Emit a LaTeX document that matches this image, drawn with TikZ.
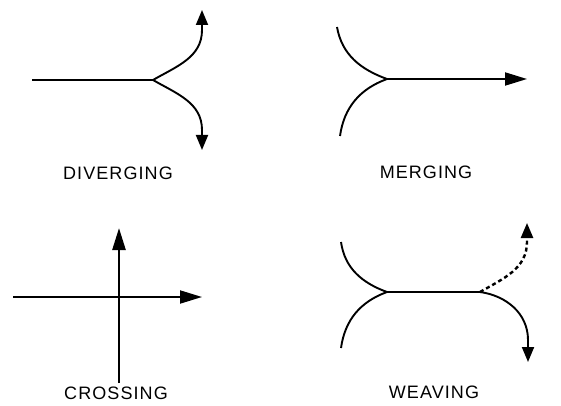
\documentclass[tikz,border=0pt]{standalone}
\usepackage{fontspec}
\setsansfont{Liberation Sans}[LetterSpace=6]
\usetikzlibrary{arrows.meta}
\tikzset{every node/.style={font=\sffamily}}

\begin{document}
\begin{tikzpicture}[x=1pt, y=-1pt,
    lane/.style={line width=1.9pt},
    thicklane/.style={line width=2.5pt},
    weavedash/.style={line width=2.4pt, dash pattern=on 4pt off 3pt},
    shortarr/.style={-{Triangle[length=15pt,width=12pt]}},
    longarr/.style={-{Triangle[length=22pt,width=13pt]}},
    caption/.style={font=\sffamily\fontsize{18}{18}\selectfont, inner sep=0pt}]
  \useasboundingbox (0,0) rectangle (561,406);

  % diverging
  \coordinate (dstart) at (32,80);
  \coordinate (djoin) at (153,80);
  \coordinate (dupbend) at (202,30);
  \coordinate (duptip) at (202,10);
  \coordinate (ddownbend) at (202,130);
  \coordinate (ddowntip) at (202,150);
  \draw[lane] (dstart) -- (djoin);
  \draw[lane, shortarr] (djoin) to[out=30,in=-90] (dupbend) -- (duptip);
  \draw[lane, shortarr] (djoin) to[out=-30,in=90] (ddownbend) -- (ddowntip);
  \node[caption] (divlabel) at (118,173) {DIVERGING};

  % merging
  \coordinate (mupstart) at (337,27);
  \coordinate (mdownstart) at (340,136);
  \coordinate (mjoin) at (387,79);
  \coordinate (mtip) at (527,79);
  \draw[lane] (mupstart) to[out=-80,in=160] (mjoin);
  \draw[lane] (mdownstart) to[out=82,in=-160] (mjoin);
  \draw[lane, longarr] (mjoin) -- (mtip);
  \node[caption] (mrglabel) at (426,172) {MERGING};

  % crossing
  \coordinate (cwest) at (13,297);
  \coordinate (ceast) at (202,297);
  \coordinate (csouth) at (119,383);
  \coordinate (cnorth) at (119,228);
  \draw[lane, longarr] (cwest) -- (ceast);
  \draw[thicklane, longarr] (csouth) -- (cnorth);
  \node[caption] (crslabel) at (116,393) {CROSSING};

  % weaving
  \coordinate (wupstart) at (341,242);
  \coordinate (wdownstart) at (341,348);
  \coordinate (wjoin) at (387,292);
  \coordinate (wsplit) at (480,292);
  \coordinate (wupbend) at (527,242);
  \coordinate (wuptip) at (527,223);
  \coordinate (wdownbend) at (528,340);
  \coordinate (wdowntip) at (528,362);
  \draw[lane] (wupstart) to[out=-82,in=160] (wjoin);
  \draw[lane] (wdownstart) to[out=82,in=-160] (wjoin);
  \draw[lane] (wjoin) -- (wsplit);
  \draw[weavedash, shortarr] (wsplit) to[out=30,in=-90] (wupbend) -- (wuptip);
  \draw[lane, shortarr] (wsplit) to[out=-8,in=90] (wdownbend) -- (wdowntip);
  \node[caption] (wvglabel) at (434,392) {WEAVING};
\end{tikzpicture}
\end{document}
